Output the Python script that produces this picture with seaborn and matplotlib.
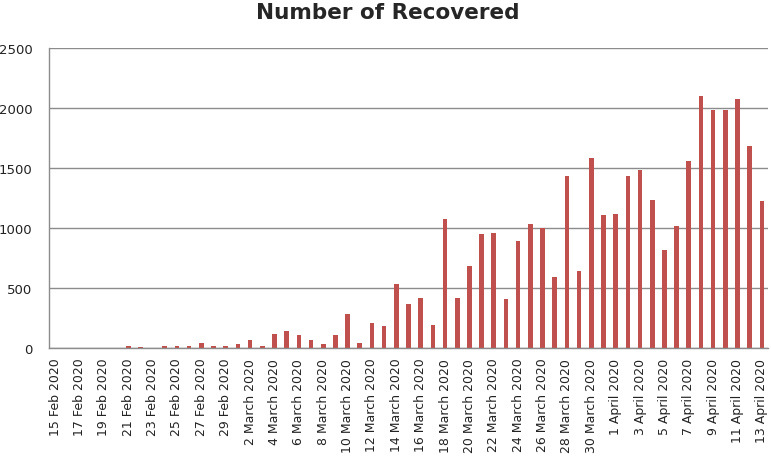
import pandas as pd
import matplotlib.pyplot as plt
import seaborn as sns

# daily recovered counts, 15 Feb 2020 - 13 April 2020
feb_days = list(range(15, 30))
feb_values = [0, 0, 0, 0, 0, 0, 14, 12, 0, 14, 14, 14, 42, 14, 14]
march_days = list(range(1, 32))
march_values = [33, 65, 14, 117, 139, 106, 67, 33, 106, 283,
                44, 211, 181, 533, 365, 418, 191, 1078, 418, 686,
                948, 957, 409, 890, 1037, 998, 595, 1430, 645, 1585, 1110]
april_days = list(range(1, 14))
april_values = [1120, 1430, 1485, 1236, 819, 1019, 1558,
                2097, 1983, 1983, 2075, 1683, 1225]

labels = ([f'{d} Feb 2020' for d in feb_days]
          + [f'{d} March 2020' for d in march_days]
          + [f'{d} April 2020' for d in april_days])
values = feb_values + march_values + april_values

df = pd.DataFrame({'date': labels, 'recovered': values})

sns.set_style('white')
plt.rcParams['font.family'] = ['DejaVu Sans']

fig = plt.figure(figsize=(7.71, 4.60), dpi=100)
ax = fig.add_axes([49 / 771, 1 - 349 / 460, 719 / 771, 300 / 460])

sns.barplot(data=df, x='date', y='recovered', color='#C0504D',
            width=0.38, saturation=1, linewidth=0, ax=ax)

ax.set_ylim(0, 2500)
ax.set_yticks(range(0, 2501, 500))
ax.set_xlim(-0.5, len(labels) - 0.5)
ax.set_xticks(range(0, len(labels), 2))
ax.set_xticklabels(labels[::2], rotation=90, va='top', ha='center')
ax.tick_params(axis='x', labelsize=9, length=0, pad=7, colors='#222222')
ax.tick_params(axis='y', labelsize=9.5, length=0, pad=12, colors='#222222')

ax.grid(axis='y', color='#8c8c8c', linewidth=1)
ax.set_axisbelow(True)
for side in ['top', 'right']:
    ax.spines[side].set_visible(False)
for side in ['left', 'bottom']:
    ax.spines[side].set_color('#8c8c8c')
    ax.spines[side].set_linewidth(1)

ax.set_xlabel('')
ax.set_ylabel('')
fig.suptitle('Number of Recovered', x=388 / 771, y=1 - 3 / 460, va='top',
             fontsize=15.5, fontweight='bold')

fig.savefig('out.png', dpi=100)
